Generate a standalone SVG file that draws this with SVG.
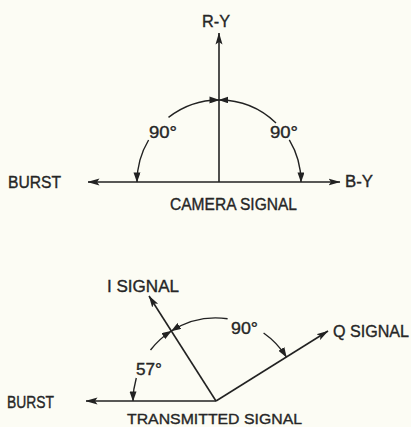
<svg xmlns="http://www.w3.org/2000/svg" width="411" height="427" viewBox="0 0 411 427">
  <defs>
    <style>
      .ln { fill: none; stroke: #222; stroke-width: 1.6; }
      .arc { fill: none; stroke: #222; stroke-width: 1.4; }
      .t { font-family: "Liberation Sans", Arial, sans-serif; font-size: 16px; fill: #262626; stroke: #262626; stroke-width: 0.35; }
    </style>
    <marker id="ah" viewBox="0 0 12 8" refX="11.5" refY="4" markerWidth="12" markerHeight="8" markerUnits="userSpaceOnUse" orient="auto">
      <path d="M0,0.5 L12,4 L0,7.5 L2.5,4 Z" fill="#222"/>
    </marker>
    <marker id="as" viewBox="0 0 10 7" refX="9.5" refY="3.5" markerWidth="10" markerHeight="7" markerUnits="userSpaceOnUse" orient="auto">
      <path d="M0,0 L10,3.5 L0,7 Z" fill="#222"/>
    </marker>
  </defs>
  <rect width="411" height="427" fill="#fcfcf4"/>

  <g id="connectors">
    <!-- camera signal axes -->
    <line class="ln" x1="219" y1="182" x2="219" y2="33" marker-end="url(#ah)"/>
    <line class="ln" x1="219" y1="182" x2="88" y2="182" marker-end="url(#ah)"/>
    <line class="ln" x1="219" y1="182" x2="340" y2="182" marker-end="url(#ah)"/>
    <!-- camera signal arcs -->
    <path class="arc" d="M168.5,117.4 A82,82 0 0 1 219,100" marker-end="url(#as)"/>
    <path class="arc" d="M148.6,140 A82,82 0 0 0 137,182" marker-end="url(#as)"/>
    <path class="arc" d="M276,123 A82,82 0 0 0 219,100" marker-end="url(#as)"/>
    <path class="arc" d="M289.3,139.8 A82,82 0 0 1 301,182" marker-end="url(#as)"/>

    <!-- transmitted signal axes -->
    <line class="ln" x1="216" y1="401" x2="86" y2="401" marker-end="url(#ah)"/>
    <line class="ln" x1="216" y1="401" x2="149" y2="296" marker-end="url(#ah)"/>
    <line class="ln" x1="216" y1="401" x2="328" y2="331" marker-end="url(#ah)"/>
    <!-- transmitted signal arcs -->
    <path class="arc" d="M136.3,378 A83,83 0 0 0 133,401" marker-end="url(#as)"/>
    <path class="arc" d="M150.5,350 A83,83 0 0 1 171.4,331" marker-end="url(#as)"/>
    <path class="arc" d="M227.6,318.8 A83,83 0 0 0 171.4,331" marker-end="url(#as)"/>
    <path class="arc" d="M263.6,333 A83,83 0 0 1 286.4,357" marker-end="url(#as)"/>
  </g>

  <g id="label-ry"><text class="t" x="202" y="27" textLength="28" lengthAdjust="spacingAndGlyphs">R-Y</text></g>
  <g id="label-by"><text class="t" x="345" y="187" textLength="28" lengthAdjust="spacingAndGlyphs">B-Y</text></g>
  <g id="label-burst-top"><text class="t" x="8" y="188" textLength="53" lengthAdjust="spacingAndGlyphs">BURST</text></g>
  <g id="label-camera"><text class="t" x="170" y="210" textLength="127" lengthAdjust="spacingAndGlyphs">CAMERA SIGNAL</text></g>
  <g id="label-90-left"><text class="t" x="149" y="138" textLength="28" lengthAdjust="spacingAndGlyphs">90°</text></g>
  <g id="label-90-right"><text class="t" x="270" y="138" textLength="28" lengthAdjust="spacingAndGlyphs">90°</text></g>

  <g id="label-i"><text class="t" x="107" y="292" textLength="72" lengthAdjust="spacingAndGlyphs">I SIGNAL</text></g>
  <g id="label-q"><text class="t" x="333" y="337" textLength="76" lengthAdjust="spacingAndGlyphs">Q SIGNAL</text></g>
  <g id="label-57"><text class="t" x="136" y="375" textLength="26" lengthAdjust="spacingAndGlyphs">57°</text></g>
  <g id="label-90-bottom"><text class="t" x="231" y="334" textLength="27" lengthAdjust="spacingAndGlyphs">90°</text></g>
  <g id="label-burst-bottom"><text class="t" x="7" y="408" textLength="47" lengthAdjust="spacingAndGlyphs">BURST</text></g>
  <g id="label-transmitted"><text class="t" x="127" y="424" textLength="175" lengthAdjust="spacingAndGlyphs" style="font-size:15px">TRANSMITTED SIGNAL</text></g>
</svg>
